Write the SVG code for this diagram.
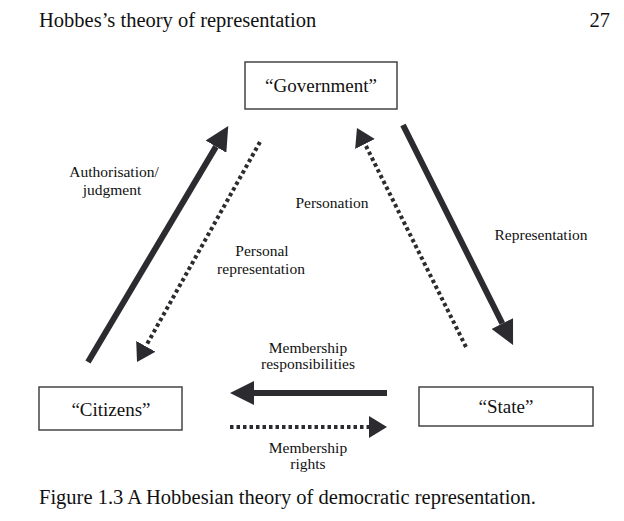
<svg xmlns="http://www.w3.org/2000/svg" width="624" height="521" viewBox="0 0 624 521">
  <style>
    .t { font-family: "Liberation Serif", "Times New Roman", serif; fill: #111; }
    .hdr { font-size: 20.5px; }
    .box { fill: #fff; stroke: #444; stroke-width: 1.5; }
    .boxt { font-size: 19px; text-anchor: middle; }
    .lbl { font-size: 15.5px; text-anchor: middle; }
    .solid { stroke: #2b2b30; stroke-width: 6; fill: none; marker-end: url(#headS); }
    .dot { stroke: #2b2b30; stroke-width: 4; stroke-dasharray: 3.5 3; fill: none; marker-end: url(#headD); }
  </style>
  <defs>
    <marker id="headS" markerUnits="userSpaceOnUse" viewBox="0 0 24 24" refX="0" refY="12" markerWidth="24" markerHeight="24" orient="auto">
      <path d="M0,0 L24,12 L0,24 z" fill="#2b2b30"/>
    </marker>
    <marker id="headD" markerUnits="userSpaceOnUse" viewBox="0 0 18 22" refX="0" refY="11" markerWidth="18" markerHeight="22" orient="auto">
      <path d="M0,0 L18,11 L0,22 z" fill="#2b2b30"/>
    </marker>
  </defs>
  <rect width="624" height="521" fill="#fff"/>

  <text class="t hdr" x="39" y="27">Hobbes’s theory of representation</text>
  <text class="t hdr" x="610" y="27" text-anchor="end">27</text>

  <g id="connectors">
    <line class="solid" x1="88" y1="362" x2="216" y2="146.6"/>
    <line class="dot" x1="260" y1="142" x2="145.8" y2="346.3"/>
    <line class="dot" x1="466" y1="347" x2="365" y2="144"/>
    <line class="solid" x1="403" y1="125" x2="502.3" y2="323.5"/>
    <line class="solid" x1="387" y1="393" x2="254" y2="393"/>
    <line class="dot" x1="230" y1="427" x2="369" y2="427"/>
  </g>

  <g id="labels">
    <text class="t lbl" x="114" y="177">Authorisation/</text>
    <text class="t lbl" x="112" y="195">judgment</text>
    <text class="t lbl" x="332" y="208">Personation</text>
    <text class="t lbl" x="262" y="256">Personal</text>
    <text class="t lbl" x="261" y="274">representation</text>
    <text class="t lbl" x="541" y="240">Representation</text>
    <text class="t lbl" x="308" y="353">Membership</text>
    <text class="t lbl" x="308" y="369">responsibilities</text>
    <text class="t lbl" x="308" y="453">Membership</text>
    <text class="t lbl" x="308" y="469">rights</text>
  </g>

  <g id="government">
    <rect class="box" x="245" y="62" width="152" height="47"/>
    <text class="t boxt" x="321" y="92">“Government”</text>
  </g>
  <g id="citizens">
    <rect class="box" x="39" y="387" width="143" height="43"/>
    <text class="t boxt" x="111" y="416">“Citizens”</text>
  </g>
  <g id="state">
    <rect class="box" x="419" y="387" width="174" height="39"/>
    <text class="t boxt" x="506" y="413">“State”</text>
  </g>

  <text class="t hdr" x="39" y="504">Figure 1.3 A Hobbesian theory of democratic representation.</text>
</svg>
